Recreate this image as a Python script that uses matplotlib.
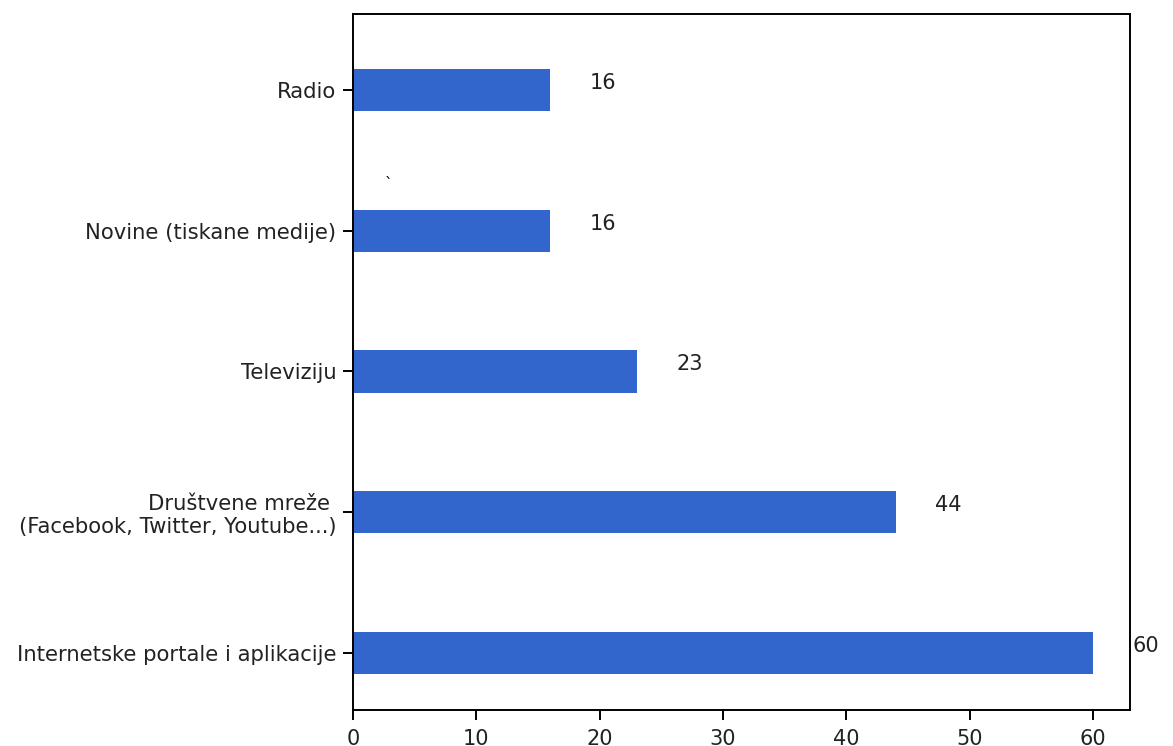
import numpy as np
from matplotlib import pyplot as plt

categories = ["Internetske portale i aplikacije",
              "Društvene mreže \n(Facebook, Twitter, Youtube...)",
              "Televiziju",
              "Novine (tiskane medije)",
              "Radio"]
values = [60, 44, 23, 16, 16]

plt.rcParams["axes.linewidth"] = 1.4
plt.rcParams["xtick.major.size"] = 7
plt.rcParams["ytick.major.size"] = 7
plt.rcParams["xtick.major.width"] = 1.4
plt.rcParams["ytick.major.width"] = 1.4
plt.rcParams["xtick.major.pad"] = 7
plt.rcParams["ytick.major.pad"] = 5

fig = plt.figure(figsize=(11.73, 7.46), dpi=100)
ax = fig.add_axes([0.3009, 0.0483, 0.6624, 0.9329])

y = np.arange(len(categories))
ax.barh(y, values, height=0.3, color="#3366cc")

# value labels to the right of bars
for i in range(len(values)):
    ax.text(values[i] + 3.2, y[i] + 0.05, str(values[i]), va="center", fontsize=15, color="#222222")

# stray mark from the original
ax.text(2.6, 3.3, "`", fontsize=11)

ax.set_yticks(y)
ax.set_yticklabels(categories, fontsize=15.2, color="#222222")
ax.set_xticks([0, 10, 20, 30, 40, 50, 60])
ax.tick_params(axis="x", labelsize=15, labelcolor="#222222")
ax.set_xlim(0, 63)
ax.set_ylim(-0.405, 4.54)

fig.savefig("out.png", dpi=100)
